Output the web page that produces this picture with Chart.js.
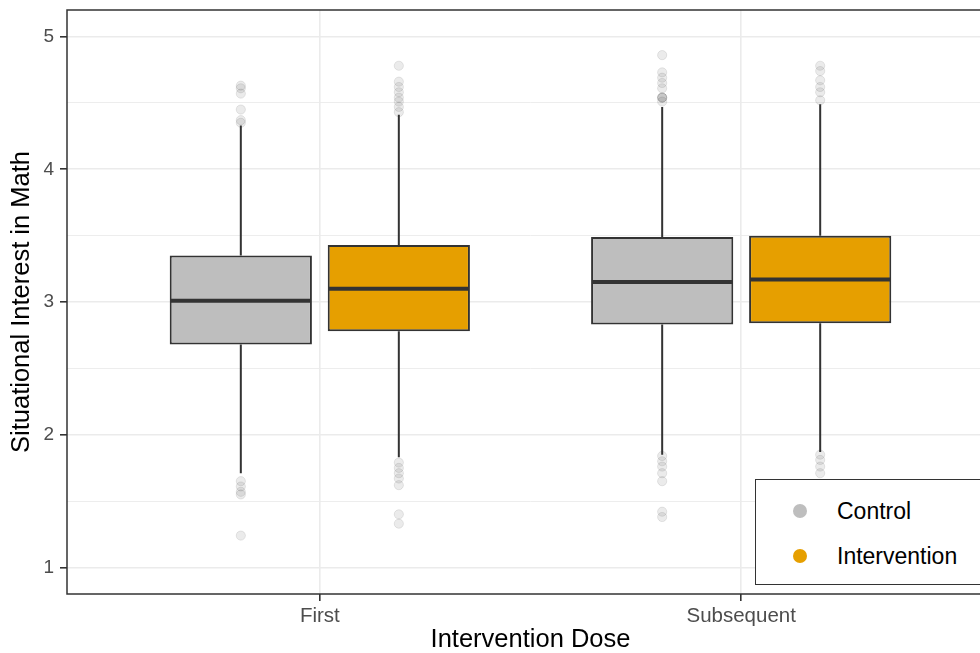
<!DOCTYPE html>
<html>
<head>
<meta charset="utf-8">
<script src="https://cdn.jsdelivr.net/npm/chart.js@4.4.1/dist/chart.umd.min.js"></script>
<style>
  html, body { margin: 0; padding: 0; overflow: hidden; background: #fff; width: 980px; height: 653px; }
  #wrap { position: relative; width: 1000px; height: 653px; }
  #legend {
    position: absolute; left: 755px; top: 479px; width: 260px; height: 106px;
    border: 1.5px solid #333; background: #fff; box-sizing: border-box;
    font-family: "Liberation Sans", Arial, sans-serif; font-size: 23px; color: #000;
  }
  .item { position: absolute; left: 0; height: 30px; width: 100%; }
  .dot { position: absolute; left: 37px; top: 8px; width: 14px; height: 14px; border-radius: 50%; }
  .lab { position: absolute; left: 81px; top: 0; line-height: 30px; white-space: nowrap; }
</style>
</head>
<body>
<div id="wrap">
  <canvas id="c" width="1000" height="653"></canvas>
  <div id="legend"></div>
</div>
<script>
// Doses on the x axis and the two groups being compared
const categories = ['First', 'Subsequent'];
const seriesNames = ['Control', 'Intervention'];
const seriesColors = ['#BEBEBE', '#E69F00'];

// Box statistics per dose (First, Subsequent)
const controlLower  = [1.71, 1.85];
const controlQ1     = [2.68, 2.83];
const controlMedian = [3.01, 3.15];
const controlQ3     = [3.35, 3.49];
const controlUpper  = [4.33, 4.47];

const interventionLower  = [1.83, 1.87];
const interventionQ1     = [2.78, 2.84];
const interventionMedian = [3.10, 3.17];
const interventionQ3     = [3.43, 3.50];
const interventionUpper  = [4.41, 4.49];

// Outlying observations per dose
const controlOutliersFirst = [4.63, 4.61, 4.57, 4.45, 4.37, 4.35, 1.65, 1.61, 1.57, 1.55, 1.24];
const controlOutliersSubsequent = [4.86, 4.73, 4.69, 4.65, 4.61, 4.54, 4.54, 4.54, 4.51,
                                   1.84, 1.80, 1.76, 1.71, 1.65, 1.42, 1.38];
const interventionOutliersFirst = [4.78, 4.66, 4.62, 4.58, 4.54, 4.51, 4.47, 4.43,
                                   1.79, 1.75, 1.71, 1.67, 1.62, 1.40, 1.33];
const interventionOutliersSubsequent = [4.78, 4.74, 4.67, 4.62, 4.58, 4.52,
                                        1.85, 1.81, 1.76, 1.71];

// Axis ticks
const yMajorTicks = [1, 2, 3, 4, 5];

const series = [
  { lo: controlLower, q1: controlQ1, med: controlMedian, q3: controlQ3, hi: controlUpper,
    out: [controlOutliersFirst, controlOutliersSubsequent] },
  { lo: interventionLower, q1: interventionQ1, med: interventionMedian, q3: interventionQ3, hi: interventionUpper,
    out: [interventionOutliersFirst, interventionOutliersSubsequent] }
];

const FONT = '"Liberation Sans", Arial, sans-serif';
const OUTLINE = '#333333';
const GRID = '#ebebeb';
const dodgeWidth = 0.75;

// Minor grid positions halfway between the major ticks
const yGridTicks = [];
yMajorTicks.forEach((v, i) => {
  yGridTicks.push(v);
  if (i < yMajorTicks.length - 1) yGridTicks.push((v + yMajorTicks[i + 1]) / 2);
});
const isMajor = v => yMajorTicks.indexOf(v) !== -1;

const boxDatasets = series.map((s, si) => ({
  type: 'bar',
  label: seriesNames[si],
  data: categories.map((c, ci) => ({ x: ci + 1, y: [s.q1[ci], s.q3[ci]] })),
  backgroundColor: seriesColors[si],
  borderColor: OUTLINE,
  borderWidth: 2,
  borderSkipped: false,
  categoryPercentage: dodgeWidth,
  barPercentage: 0.9
}));

const outlierDatasets = series.map((s, si) => {
  const shift = (si - (series.length - 1) / 2) * dodgeWidth / series.length;
  const pts = [];
  s.out.forEach((vals, ci) => vals.forEach(v => pts.push({ x: ci + 1 + shift, y: v })));
  return {
    type: 'scatter',
    label: seriesNames[si] + ' outliers',
    data: pts,
    pointRadius: 4.6,
    pointBackgroundColor: 'rgba(0,0,0,0.08)',
    pointBorderColor: 'rgba(0,0,0,0.09)',
    pointBorderWidth: 1
  };
});

// Whiskers, medians and the panel frame
const boxParts = {
  id: 'boxParts',
  afterDatasetsDraw(chart) {
    const ctx = chart.ctx;
    const ys = chart.scales.y;
    ctx.save();
    ctx.strokeStyle = OUTLINE;
    series.forEach((s, si) => {
      const meta = chart.getDatasetMeta(si);
      meta.data.forEach((bar, ci) => {
        const x = bar.x, half = bar.width / 2;
        ctx.lineWidth = 2;
        ctx.beginPath();
        ctx.moveTo(x, ys.getPixelForValue(s.q3[ci]));
        ctx.lineTo(x, ys.getPixelForValue(s.hi[ci]));
        ctx.moveTo(x, ys.getPixelForValue(s.q1[ci]));
        ctx.lineTo(x, ys.getPixelForValue(s.lo[ci]));
        ctx.stroke();
        const ym = ys.getPixelForValue(s.med[ci]);
        ctx.lineWidth = 4;
        ctx.beginPath();
        ctx.moveTo(x - half + 1, ym);
        ctx.lineTo(x + half - 1, ym);
        ctx.stroke();
      });
    });
    const a = chart.chartArea;
    ctx.lineWidth = 1.5;
    ctx.strokeRect(a.left, a.top, a.right - a.left, a.bottom - a.top);
    ctx.restore();
  }
};

new Chart(document.getElementById('c'), {
  type: 'bar',
  data: { datasets: [...boxDatasets, ...outlierDatasets] },
  options: {
    responsive: false,
    animation: false,
    layout: { padding: { top: 10, right: 6, left: 0, bottom: 0 } },
    plugins: { legend: { display: false }, tooltip: { enabled: false } },
    scales: {
      x: {
        type: 'linear',
        min: 0.4,
        max: 2.6,
        offset: false,
        afterBuildTicks: sc => { sc.ticks = categories.map((c, i) => ({ value: i + 1 })); },
        afterFit: sc => { sc.height = 59; sc.paddingLeft = 0; sc.paddingRight = 0; },
        grid: { offset: false, color: GRID, lineWidth: 1.6, tickColor: OUTLINE, tickLength: 7 },
        border: { display: false },
        ticks: {
          autoSkip: false, maxRotation: 0, padding: 3,
          color: '#4d4d4d', font: { family: FONT, size: 20.5 },
          callback: v => categories[Math.round(v) - 1]
        },
        title: {
          display: true, text: 'Intervention Dose', color: '#000',
          font: { family: FONT, size: 25.5, lineHeight: 1 }, padding: { top: 0, bottom: 0 }
        }
      },
      y: {
        type: 'linear',
        min: 0.8,
        max: 5.2,
        afterBuildTicks: sc => { sc.ticks = yGridTicks.map(v => ({ value: v })); },
        afterFit: sc => { sc.width = 67; sc.paddingTop = 0; sc.paddingBottom = 0; },
        grid: {
          color: GRID,
          lineWidth: c => (c.tick && isMajor(c.tick.value)) ? 1.6 : 0.9,
          tickColor: c => (c.tick && isMajor(c.tick.value)) ? OUTLINE : 'rgba(0,0,0,0)',
          tickLength: 7
        },
        border: { display: false },
        ticks: {
          autoSkip: false, padding: 6,
          color: '#4d4d4d', font: { family: FONT, size: 19 },
          callback: v => isMajor(v) ? String(v) : ''
        },
        title: {
          display: true, text: 'Situational Interest in Math', color: '#000',
          font: { family: FONT, size: 25.5, lineHeight: 1 }, padding: { top: 9, bottom: 0 }
        }
      }
    }
  },
  plugins: [boxParts]
});

// Legend placed inside the panel
const legend = document.getElementById('legend');
seriesNames.forEach((name, i) => {
  const item = document.createElement('div');
  item.className = 'item';
  item.style.top = (16 + i * 45) + 'px';
  const dot = document.createElement('span');
  dot.className = 'dot';
  dot.style.background = seriesColors[i];
  const lab = document.createElement('span');
  lab.className = 'lab';
  lab.textContent = name;
  item.appendChild(dot);
  item.appendChild(lab);
  legend.appendChild(item);
});
</script>
</body>
</html>
